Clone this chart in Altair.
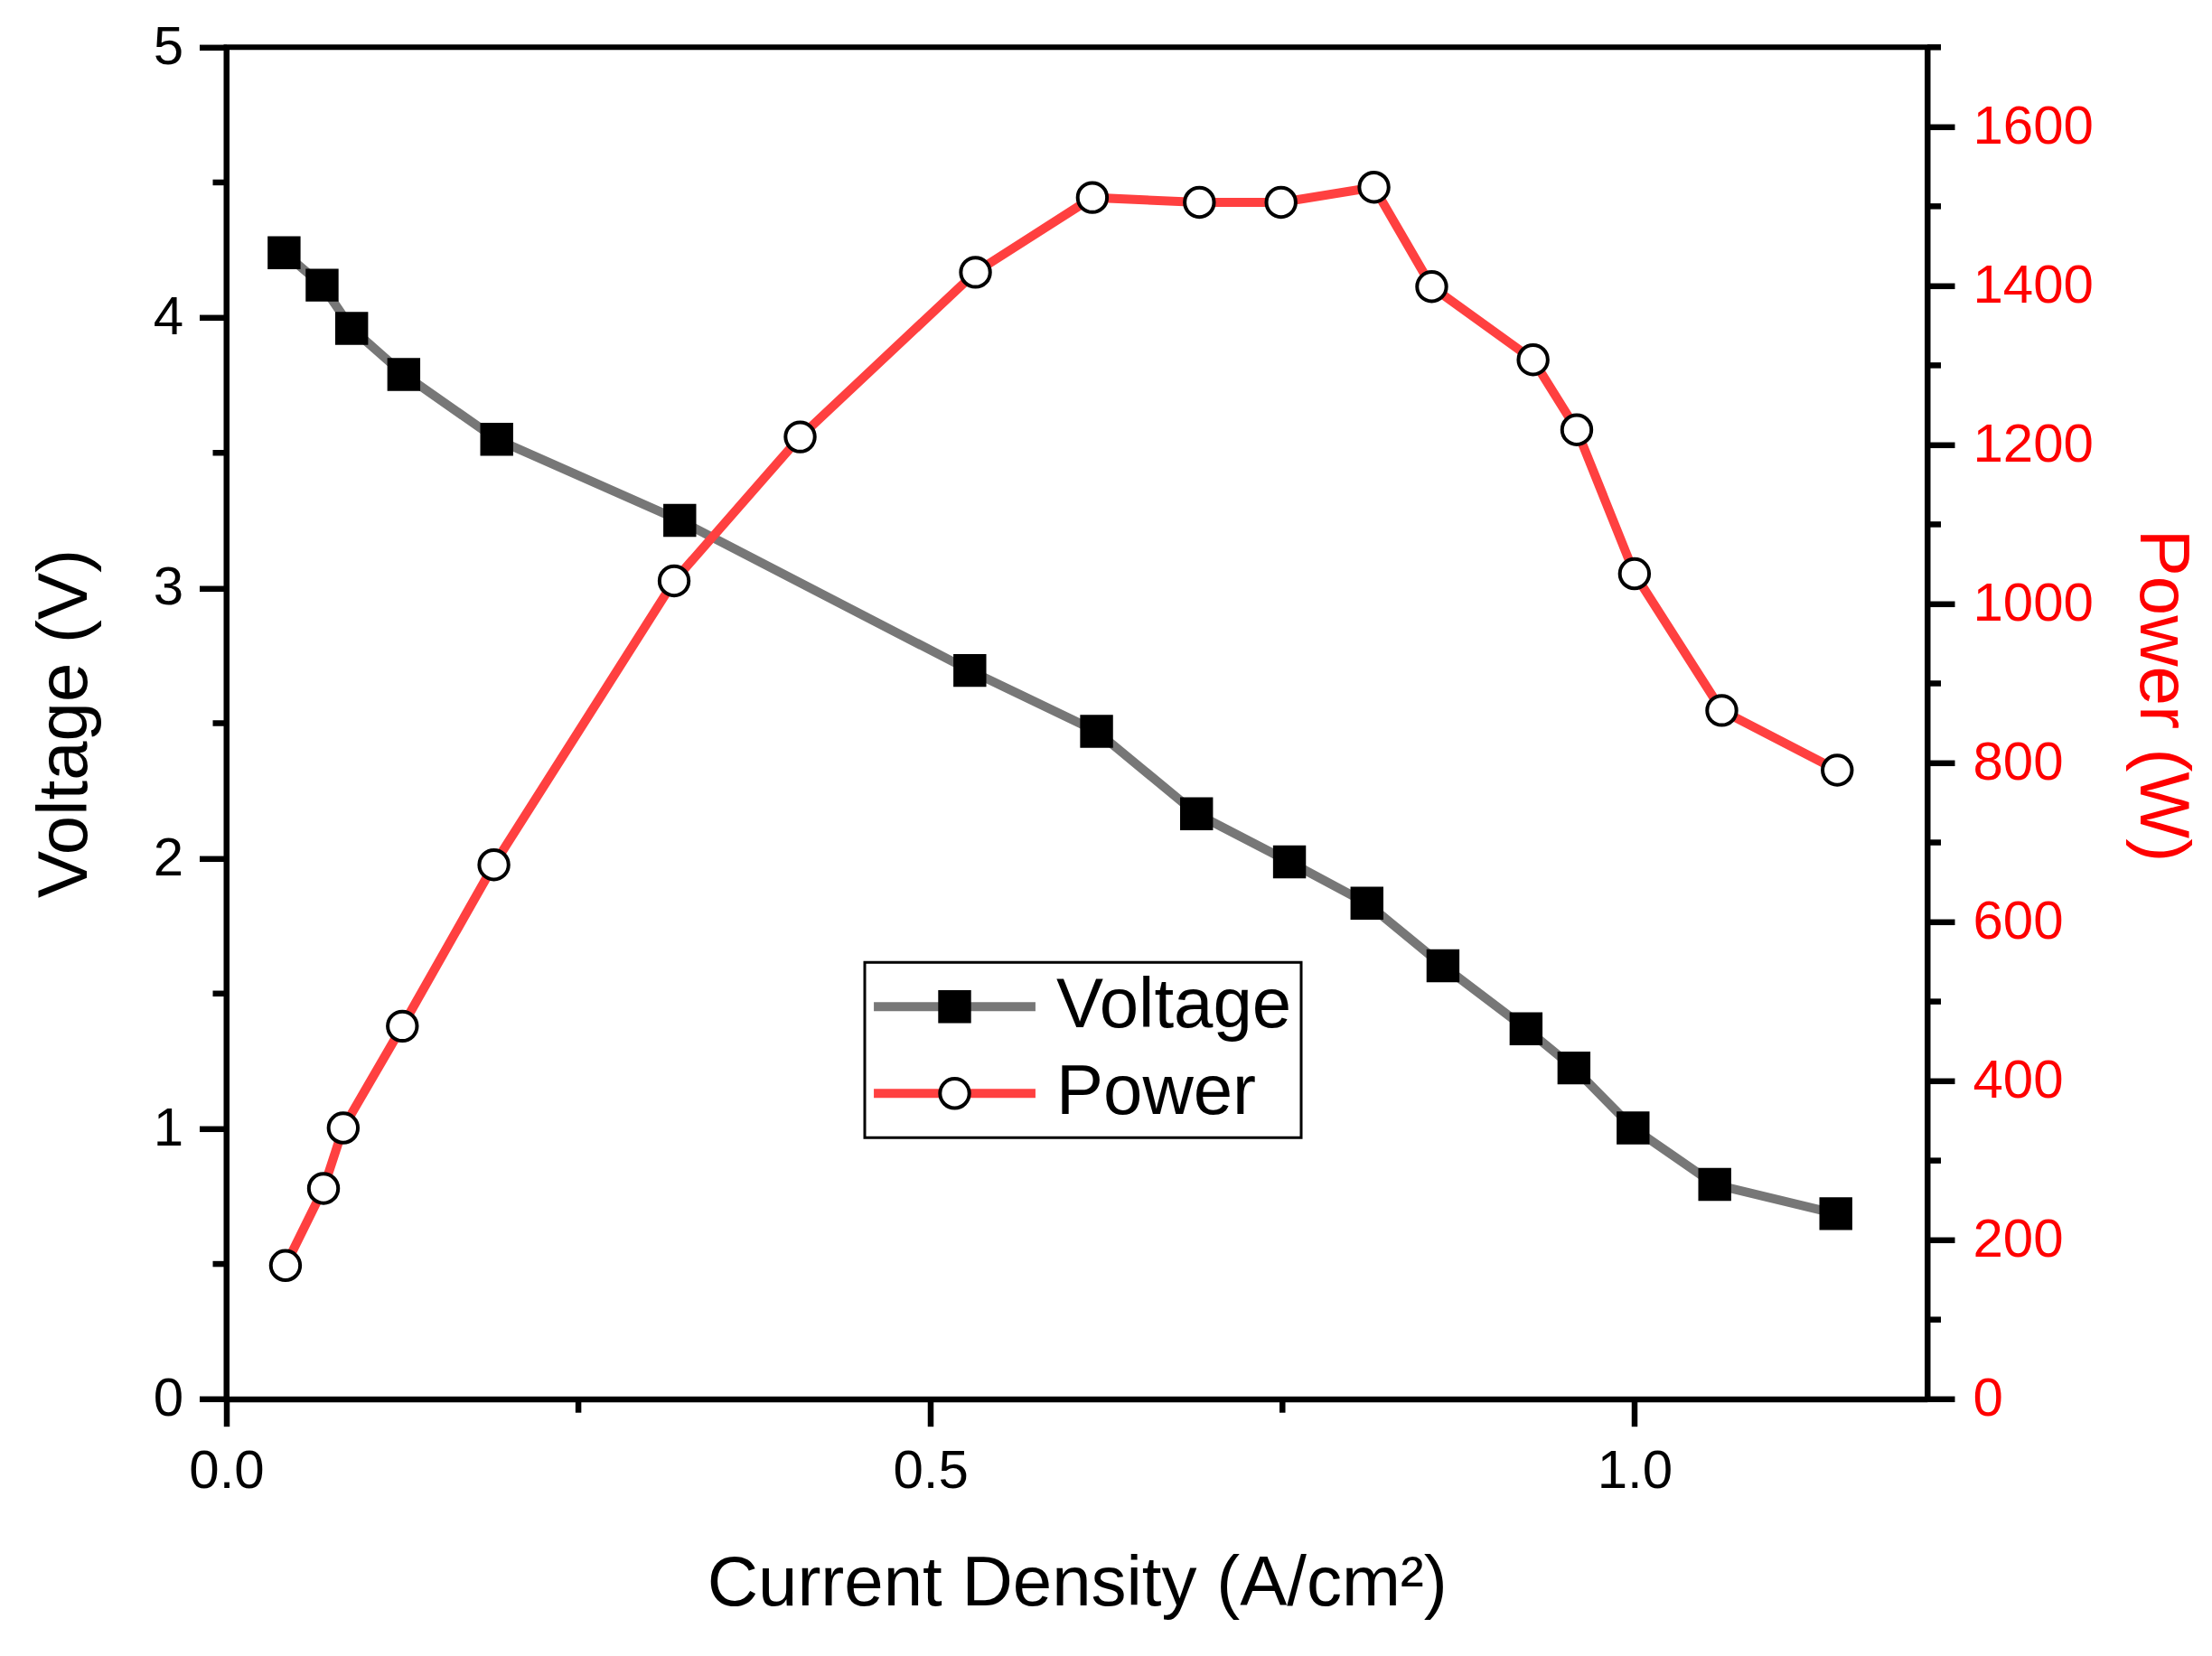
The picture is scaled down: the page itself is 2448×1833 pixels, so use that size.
import altair as alt
import pandas as pd

# Voltage curve (black squares on a grey line)
current_v = [0.041, 0.068, 0.089, 0.126, 0.192, 0.322, 0.528, 0.618, 0.689,
             0.755, 0.810, 0.864, 0.923, 0.957, 0.999, 1.057, 1.143]
voltage = [4.24, 4.12, 3.96, 3.79, 3.55, 3.25, 2.695, 2.47, 2.165,
           1.987, 1.834, 1.603, 1.37, 1.225, 1.003, 0.794, 0.686]

# Power curve (open circles on a red line)
current_p = [0.042, 0.069, 0.083, 0.125, 0.190, 0.318, 0.4075, 0.532, 0.615,
             0.691, 0.749, 0.815, 0.856, 0.928, 0.959, 1.000, 1.062, 1.144]
power = [168, 265, 341, 469, 672, 1029, 1210, 1417, 1511,
         1505, 1505, 1524, 1399, 1307, 1219, 1038, 866, 791]

series = ["Voltage", "Power"]
x_ticks = [0.0, 0.5, 1.0]
x_minor = [0.25, 0.75]
v_ticks = [0, 1, 2, 3, 4, 5]
v_minor = [0.5, 1.5, 2.5, 3.5, 4.5]
p_ticks = [0, 200, 400, 600, 800, 1000, 1200, 1400, 1600]
p_minor = [100, 300, 500, 700, 900, 1100, 1300, 1500, 1700]

vdf = pd.DataFrame({"current": current_v, "value": voltage,
                    "line_series": "Voltage", "marker_series": "Voltage"})
pdf = pd.DataFrame({"current": current_p, "value": power,
                    "line_series": "Power", "marker_series": "Power"})

W, H = 1882.5, 1496.4
FONT = "Liberation Sans"
GREY, RED = "#777777", "#ff4040"
LINE_W = 10
MARK_SIZE = 1050

x_scale = alt.Scale(domain=[0, 1.208], nice=False, zero=False)
v_scale = alt.Scale(domain=[0, 5], nice=False)
p_scale = alt.Scale(domain=[0, 1700], nice=False)

axis_style = dict(grid=False, labelFont=FONT, titleFont=FONT, labelFontSize=60,
                  titleFontSize=78, titleFontWeight="normal", labelColor="black",
                  domainColor="black", domainWidth=6, tickColor="black",
                  tickWidth=6.5, tickSize=30, labelFlush=False, labelOverlap=False)

x_axis = alt.Axis(title="Current Density (A/cm²)", values=x_ticks, format=".1f",
                  labelPadding=21, titlePadding=56, titleColor="black", **axis_style)
v_axis = alt.Axis(title="Voltage (V)", values=v_ticks, format="d",
                  labelPadding=18, titlePadding=58, titleColor="black", **axis_style)
p_axis = alt.Axis(title="Power (W)", orient="right", values=p_ticks, format="d",
                  labelPadding=20, titlePadding=36, titleColor="#ff0000",
                  titleY=H / 2 - 31, **{**axis_style, "labelColor": "#ff0000"})

x_enc = alt.X("current:Q", scale=x_scale, axis=x_axis)

# two legends stacked on one spot: lines (with frame and labels) under markers
legend_common = dict(title=None, orient="none", legendX=706.5, legendY=1013,
                     direction="vertical", padding=10, rowPadding=18,
                     symbolOffset=50.5, labelFont=FONT, labelFontSize=78,
                     labelColor="black", labelOffset=73.5, labelLimit=1000)
line_legend = alt.Legend(symbolType="M-5.42,0H5.42", symbolSize=1089,
                         symbolStrokeWidth=LINE_W, strokeColor="black", zindex=1,
                         **legend_common)
marker_legend = alt.Legend(symbolSize=MARK_SIZE, symbolStrokeColor="black",
                           symbolStrokeWidth=4, symbolFillColor="white",
                           labelOpacity=0, strokeColor="transparent", zindex=2,
                           **legend_common)

# stroke keeps a sort (its own domain), shape+fill share an explicit domain -> one legend
stroke_enc = alt.Stroke("line_series:N", sort=series,
                        scale=alt.Scale(range=[GREY, RED]), legend=line_legend)
shape_enc = alt.Shape("marker_series:N",
                      scale=alt.Scale(domain=series, range=["square", "circle"]),
                      legend=marker_legend)
fill_enc = alt.Fill("marker_series:N",
                    scale=alt.Scale(domain=series, range=["black", "white"]),
                    legend=marker_legend)


def curve(df, y_scale, y_axis):
    line = alt.Chart(df).mark_line(strokeWidth=LINE_W).encode(
        x=x_enc,
        y=alt.Y("value:Q", scale=y_scale, axis=y_axis),
        stroke=stroke_enc,
    )
    pts = alt.Chart(df).mark_point(filled=True, size=MARK_SIZE, stroke="black",
                                   strokeWidth=4, opacity=1).encode(
        x=x_enc,
        y=alt.Y("value:Q", scale=y_scale, axis=y_axis),
        shape=shape_enc,
        fill=fill_enc,
    )
    return line, pts


vline, vpts = curve(vdf, v_scale, v_axis)
pline, ppts = curve(pdf, p_scale, p_axis)

# minor ticks
v_minor_ticks = alt.Chart(pd.DataFrame({"t": v_minor})).mark_rule(
    color="black", strokeWidth=6.5).encode(
    y=alt.Y("t:Q", scale=v_scale, axis=v_axis), x=alt.value(0), x2=alt.value(-15))
x_minor_ticks = alt.Chart(pd.DataFrame({"t": x_minor})).mark_rule(
    color="black", strokeWidth=6.5).encode(
    x=alt.X("t:Q", scale=x_scale, axis=x_axis), y=alt.value(H), y2=alt.value(H + 15))
p_minor_ticks = alt.Chart(pd.DataFrame({"t": p_minor})).mark_rule(
    color="black", strokeWidth=6.5).encode(
    y=alt.Y("t:Q", scale=p_scale, axis=p_axis), x=alt.value(W), x2=alt.value(W + 15))

left = alt.layer(vline, vpts, v_minor_ticks, x_minor_ticks)
right = alt.layer(pline, ppts, p_minor_ticks)

chart = alt.layer(left, right).resolve_scale(y="independent").properties(
    width=W,
    height=H,
    padding={"left": 242.5, "top": 44.3, "right": 307, "bottom": 276.3},
    autosize=alt.AutoSizeParams(type="none"),
    background="white",
).configure_view(
    stroke="black", strokeWidth=6
).configure_legend(
    strokeWidth=3
)

chart.save("out.html", embed_options={"renderer": "svg", "actions": False})
